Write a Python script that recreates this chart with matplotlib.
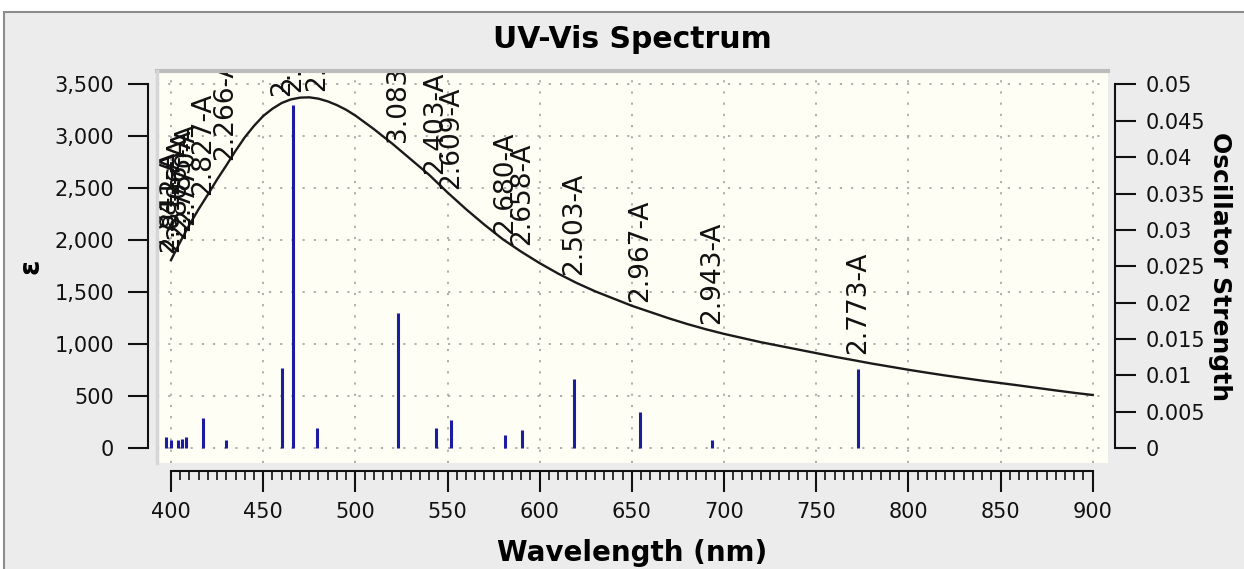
import matplotlib
matplotlib.use("Agg")
import numpy as np
import matplotlib.pyplot as plt
from matplotlib.patches import Rectangle
from matplotlib.ticker import FixedLocator, FuncFormatter

# absorption envelope (epsilon vs wavelength)
wl_curve = [400, 405, 410, 415, 420, 425, 430, 435, 440, 445, 450, 455, 460, 465, 470,
            475, 480, 485, 490, 495, 500, 510, 520, 530,
            540, 550, 560, 570, 580, 590, 600, 610, 620, 630, 640, 650, 660, 670,
            680, 690, 700, 710, 720, 730, 740, 750, 760, 770, 780, 790, 800, 810,
            820, 830, 840, 850, 860, 870, 880, 890, 900]
eps_curve = [1810, 1985, 2150, 2300, 2440, 2585, 2720, 2860, 2990, 3100, 3195, 3265,
             3320, 3355, 3372, 3375, 3362, 3336, 3300, 3255, 3200, 3070,
             2930, 2780, 2630, 2460, 2300, 2150, 2010, 1890, 1780, 1680, 1590, 1510,
             1440, 1370, 1310, 1250, 1195, 1145, 1100, 1060, 1020, 985, 950, 915,
             880, 848, 815, 785, 755, 727, 700, 675, 650, 627, 604, 580, 556, 533, 512]

# transitions (stick positions, oscillator strengths, labels)
wl_sticks = [397.1, 400.2, 404.0, 406.1, 408.0, 417.5, 429.6, 460.3, 466.0, 479.0,
             523.2, 543.5, 551.8, 581.0, 590.4, 618.6, 654.6, 693.4, 772.5]
f_sticks = [0.0015, 0.00114, 0.00114, 0.0013, 0.0015, 0.0042, 0.00114, 0.011, 0.0471,
            0.0028, 0.0186, 0.0028, 0.0039, 0.0018, 0.0025, 0.0095, 0.0050, 0.00114,
            0.0109]
stick_labels = ["2.841-A", "2.812-A", "2.806-A", "2.785-A", "2.770-A", "2.827-A",
                "2.266-A", "2.354-A", "2.362-A", "2.275-A", "3.083-A", "2.403-A",
                "2.609-A", "2.680-A", "2.658-A", "2.503-A", "2.967-A", "2.943-A",
                "2.773-A"]

eps_ticks = [0, 500, 1000, 1500, 2000, 2500, 3000, 3500]
f_ticks = [0, 0.005, 0.01, 0.015, 0.02, 0.025, 0.03, 0.035, 0.04, 0.045, 0.05]

W, H = 1244, 569
fig = plt.figure(figsize=(W / 100, H / 100), dpi=100, facecolor="white")
# grey panel with a darker border on top and left
fig.patches.append(Rectangle((4 / W, -0.1), 1.2, 1.1 - 12 / H, transform=fig.transFigure,
                             facecolor="#ececec", edgecolor="#8c8c8c", lw=1.5, zorder=-10))

ax = fig.add_axes([157 / W, 1 - 462.5 / H, (1108 - 157) / W, (462.5 - 70.7) / H])
ax.set_facecolor("#fefef5")
ax.set_xlim(392.4, 908.3)
ax.set_ylim(-137, 3631)

ax.grid(True, which="major", color="#a8a8a8", linestyle=(0, (1.2, 5)), lw=1.3)
ax.set_axisbelow(True)

ax.plot(wl_curve, eps_curve, color="#1a1a1a", lw=1.7, zorder=3)

for w, lab in zip(wl_sticks, stick_labels):
    y = np.interp(w, wl_curve, eps_curve)
    ax.annotate(lab, (w, y), xytext=(0, 5), textcoords="offset points",
                rotation=90, ha="center", va="bottom", fontsize=19,
                color="#111111", annotation_clip=False, clip_on=True, zorder=4)

# bevel lines on the plot panel
ax.plot([0, 1], [1, 1], transform=ax.transAxes, color="#bcbcbc", lw=3, clip_on=False, zorder=5)
ax.plot([0, 0], [0, 1], transform=ax.transAxes, color="#d6d6d6", lw=2.5, clip_on=False, zorder=5)

for s in ["top", "right"]:
    ax.spines[s].set_visible(False)
ax.spines["left"].set_position(("outward", 6.5))
ax.spines["left"].set_bounds(0, 3500)
ax.spines["bottom"].set_position(("outward", 5.8))
ax.spines["bottom"].set_bounds(400, 900)
for s in ["left", "bottom"]:
    ax.spines[s].set_linewidth(1.5)
    ax.spines[s].set_color("#111111")

ax.set_yticks(eps_ticks)
ax.yaxis.set_major_formatter(FuncFormatter(lambda v, p: f"{v:,.0f}"))
ax.set_xticks(range(400, 901, 50))
ax.xaxis.set_minor_locator(FixedLocator([t for t in range(400, 901, 5) if t % 50]))
ax.tick_params(axis="y", length=14.5, width=1.5, pad=10, labelsize=15, colors="#111111")
ax.tick_params(axis="x", which="major", length=15, width=1.5, pad=8, labelsize=15, colors="#111111")
ax.tick_params(axis="x", which="minor", length=6.5, width=1.2, colors="#111111")

ax.set_xlabel("Wavelength (nm)", fontsize=20, fontweight="bold")
ax.xaxis.set_label_coords(0.5, -0.195)
ax.set_ylabel("ε", fontsize=20, fontweight="bold")
ax.yaxis.set_label_coords(-0.118, 0.5)
ax.set_title("UV-Vis Spectrum", fontsize=21.5, fontweight="bold", pad=16)

ax2 = ax.twinx()
ax2.set_ylim(-137 / 70000, 3631 / 70000)
ax2.vlines(wl_sticks, 0, f_sticks, color="#1c1ca0", lw=2.2, zorder=2)
for s in ["top", "left", "bottom"]:
    ax2.spines[s].set_visible(False)
ax2.spines["right"].set_position(("outward", 5))
ax2.spines["right"].set_bounds(0, 0.05)
ax2.spines["right"].set_linewidth(1.5)
ax2.spines["right"].set_color("#111111")
ax2.set_yticks(f_ticks)
ax2.yaxis.set_major_formatter(FuncFormatter(lambda v, p: f"{v:g}"))
ax2.tick_params(axis="y", length=15, width=1.5, pad=7, labelsize=15, colors="#111111")
ax2.set_ylabel("Oscillator Strength", fontsize=18, fontweight="bold", rotation=270)
ax2.yaxis.set_label_coords(1.13, 0.5)

fig.savefig("out.png", dpi=100, facecolor=fig.get_facecolor())
